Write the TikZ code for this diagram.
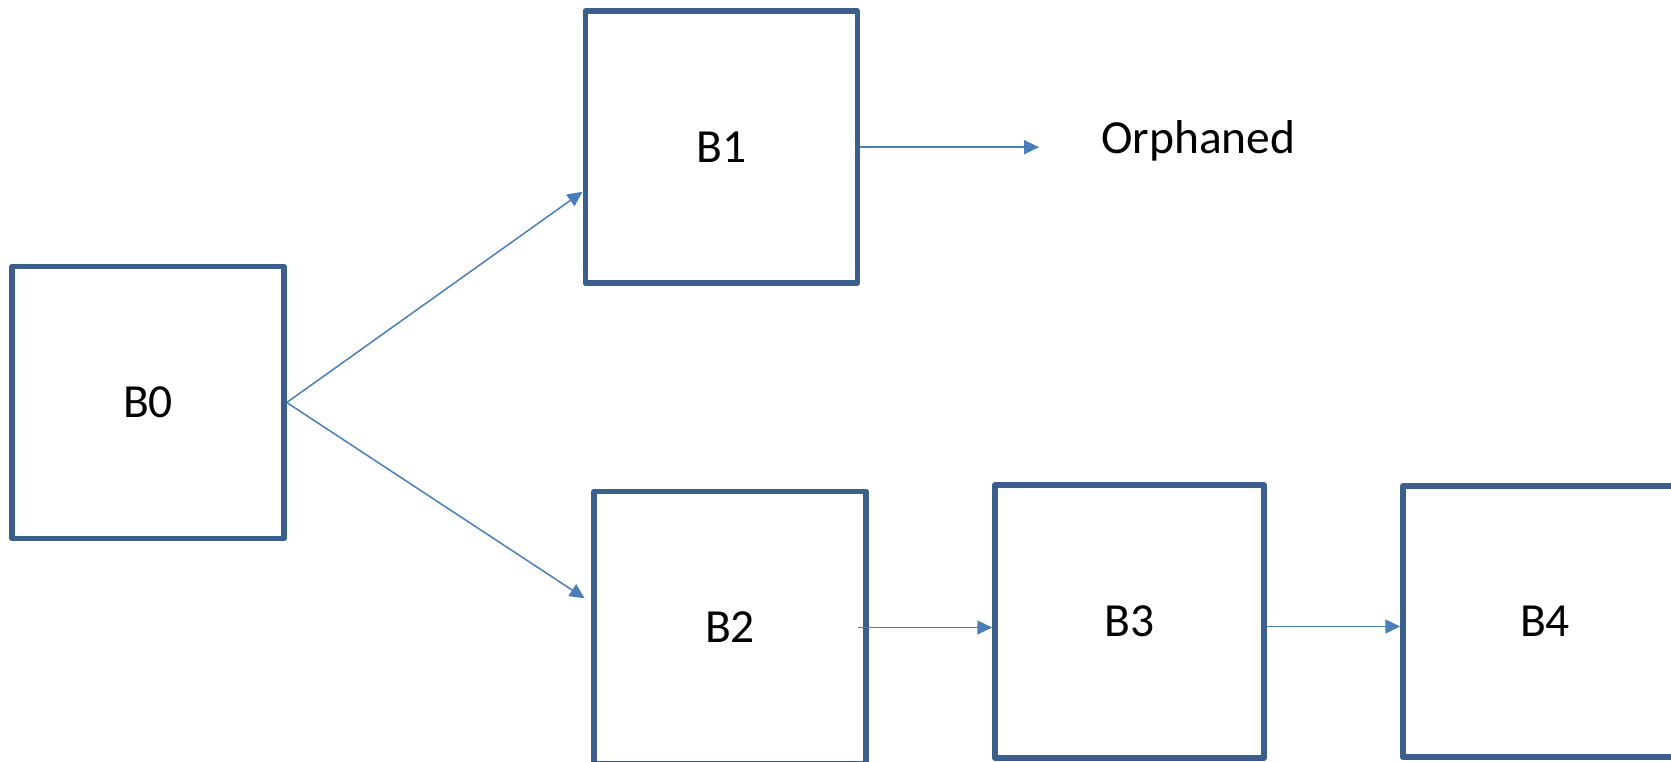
\documentclass[tikz,border=0pt]{standalone}
\usepackage{fontspec}
\setmainfont{Carlito}
\usetikzlibrary{arrows.meta}
\definecolor{boxblue}{HTML}{3B5F8C}
\definecolor{arrblue}{HTML}{4A7EBB}
\begin{document}
\begin{tikzpicture}[x=1pt,y=-1pt,
  box/.style={draw=boxblue,line width=5.5pt,fill=white,line join=round,
    minimum width=272pt,minimum height=272pt,inner sep=0pt,
    font=\fontsize{47.5}{57}\selectfont},
  arr/.style={draw=arrblue,line width=1.5pt,-{Triangle[length=15pt,width=14pt]}}]
\useasboundingbox (0,0) rectangle (1671,761);
\clip (0,0) rectangle (1671,761);
\node[box] (B0) at (148,402.5) {B0};
\node[box] (B1) at (721.3,147.2) {B1};
\node[box] (B2) at (730,627.5) {B2};
\node[box,minimum width=269pt,minimum height=273pt] (B3) at (1129.5,621.5) {B3};
\node[box,minimum width=284pt,minimum height=271pt] (B4) at (1545,621.5) {B4};
\node[anchor=west,inner sep=0pt,font=\fontsize{47.5}{57}\selectfont] (orph) at (1101,141) {Orphaned};
\draw[arr] (B0.east) -- ([yshift=-44.5pt]B1.west);
\draw[arr] (B0.east) -- ([xshift=-6.5pt,yshift=29.2pt]B2.west);
\draw[arr] (B1.east) -- ([xshift=-62pt]orph.west |- B1.east);
\draw[arr] ([xshift=-10.5pt]B2.east) -- (B2.east -| B3.west);
\draw[arr] ([yshift=-5pt]B3.east) -- ([yshift=-5pt]B3.east -| B4.west);
\end{tikzpicture}
\end{document}
